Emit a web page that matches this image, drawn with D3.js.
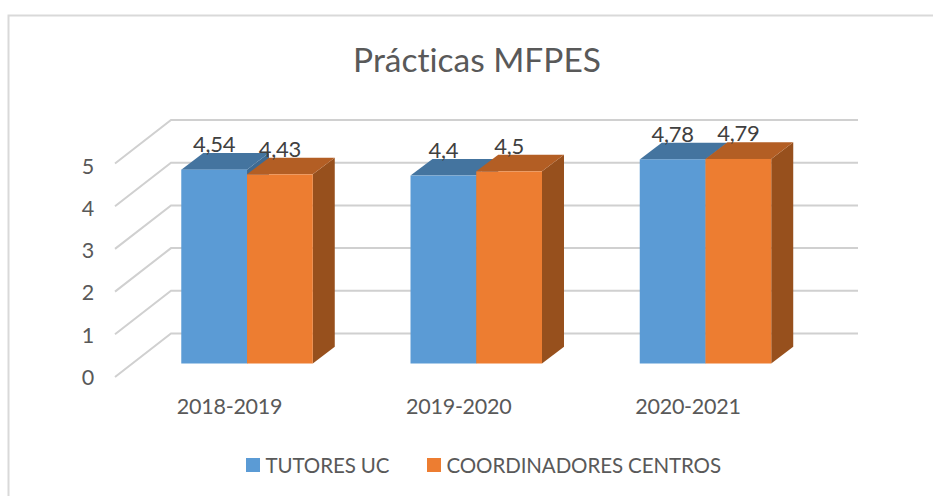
<!DOCTYPE html>
<html>
<head>
<meta charset="utf-8">
<script src="https://cdn.jsdelivr.net/npm/d3@7"></script>
<style>
  html, body { margin: 0; padding: 0; background: #fff; }
  svg { display: block; font-family: Lato, "Open Sans", sans-serif; font-variant-ligatures: none; }
</style>
</head>
<body>
<div id="chart"></div>
<script>
const title = 'Prácticas MFPES';
const categories = ['2018-2019', '2019-2020', '2020-2021'];
const seriesNames = ['TUTORES UC', 'COORDINADORES CENTROS'];
const tutores = [4.54, 4.4, 4.78];
const coordinadores = [4.43, 4.5, 4.79];
const valueTicks = [0, 1, 2, 3, 4, 5];
const seriesColors = ['#5B9BD5', '#ED7D31'];
const topColors = ['#44749F', '#B35E24'];
const sideColors = ['#3E6A92', '#97501D'];

const width = 933, height = 496;

const svg = d3.select('#chart').append('svg')
  .attr('width', width)
  .attr('height', height);

//Frame, only top and left show
svg.append('path')
  .attr('d', d3.line()([[8.5, height], [8.5, 15.5], [width, 15.5]]))
  .attr('fill', 'none')
  .attr('stroke', '#D9D9D9')
  .attr('stroke-width', 2);

svg.append('text')
  .attr('x', 477)
  .attr('y', 72)
  .attr('text-anchor', 'middle')
  .attr('fill', '#595959')
  .attr('font-size', 33.5)
  .text(title);

//Scales
const yBack = d3.scaleLinear().domain([0, 5]).range([333.5, 120]);
const yFront = d3.scaleLinear().domain([0, 5]).range([377, 163.5]);
const yBar = d3.scaleLinear().domain([0, 5]).range([363.5, 150]);
const yLabel = d3.scaleLinear().domain([0, 5]).range([376, 165]);
const depth = { x: 22, y: -16.7 };

const x0 = d3.scaleBand()
  .domain(categories)
  .range([132.4, 820.1])
  .paddingInner(0.4264)
  .paddingOuter(0.2132);

const x1 = d3.scaleBand()
  .domain(seriesNames)
  .range([0, x0.bandwidth()]);

//Gridlines: back wall plus the diagonal on the side wall
const grid = svg.append('g')
  .attr('fill', 'none')
  .attr('stroke', '#D0D0D0')
  .attr('stroke-width', 2);

grid.selectAll('path')
  .data(valueTicks)
  .join('path')
  .attr('d', d => d3.line()([[115, yFront(d)], [171, yBack(d)], [858, yBack(d)]]));

//Bars
const seriesValues = [tutores, coordinadores];

seriesNames.forEach((name, i) => {
  const bars = svg.append('g')
    .selectAll('g')
    .data(categories.map((c, j) => ({ c, v: seriesValues[i][j] })))
    .join('g')
    .attr('transform', d => `translate(${x0(d.c) + x1(name)}, 0)`);

  const w = x1.bandwidth();

  bars.append('path')
    .attr('fill', sideColors[i])
    .attr('d', d => d3.line()([
      [w, yBar(d.v)],
      [w + depth.x, yBar(d.v) + depth.y],
      [w + depth.x, yBar(0) + depth.y],
      [w, yBar(0)]
    ]) + 'Z');

  bars.append('path')
    .attr('fill', topColors[i])
    .attr('d', d => d3.line()([
      [0, yBar(d.v)],
      [depth.x, yBar(d.v) + depth.y],
      [w + depth.x, yBar(d.v) + depth.y],
      [w, yBar(d.v)]
    ]) + 'Z');

  bars.append('rect')
    .attr('fill', seriesColors[i])
    .attr('width', w)
    .attr('y', d => yBar(d.v))
    .attr('height', d => yBar(0) - yBar(d.v));
});

//Value labels go on top of everything
seriesNames.forEach((name, i) => {
  svg.append('g')
    .selectAll('text')
    .data(categories.map((c, j) => ({ c, v: seriesValues[i][j] })))
    .join('text')
    .attr('x', d => x0(d.c) + x1(name) + x1.bandwidth() / 2)
    .attr('y', d => yBar(d.v) - 17.5)
    .attr('text-anchor', 'middle')
    .attr('fill', '#404040')
    .attr('font-size', 22)
    .attr('letter-spacing', -0.3)
    .text(d => String(d.v).replace('.', ','));
});

//Axes
const yAxis = svg.append('g')
  .attr('transform', 'translate(94, 1.5)')
  .call(d3.axisLeft(yLabel).tickValues(valueTicks).tickSize(0).tickPadding(0).tickFormat(d3.format('d')));

// category labels sit left of the bar pairs, the 3d depth pulls them over
const xAxis = svg.append('g')
  .attr('transform', 'translate(-17.5, 399)')
  .call(d3.axisBottom(x0).tickSize(0).tickPadding(0));

[yAxis, xAxis].forEach(a => {
  a.select('.domain').remove();
  a.selectAll('text')
    .attr('fill', '#595959')
    .attr('font-family', 'Lato, "Open Sans", sans-serif')
    .attr('font-size', 21.5)
    .attr('letter-spacing', -0.25);
});

//Legend
const legendX = [246, 427];
const legend = svg.append('g')
  .selectAll('g')
  .data(seriesNames)
  .join('g')
  .attr('transform', (d, i) => `translate(${legendX[i]}, 458)`);

legend.append('rect')
  .attr('width', 14)
  .attr('height', 14)
  .attr('fill', (d, i) => seriesColors[i]);

legend.append('text')
  .attr('x', 19.5)
  .attr('y', 14.5)
  .attr('fill', '#595959')
  .attr('font-size', 20.5)
  .attr('letter-spacing', -0.1)
  .text(d => d);
</script>
</body>
</html>
